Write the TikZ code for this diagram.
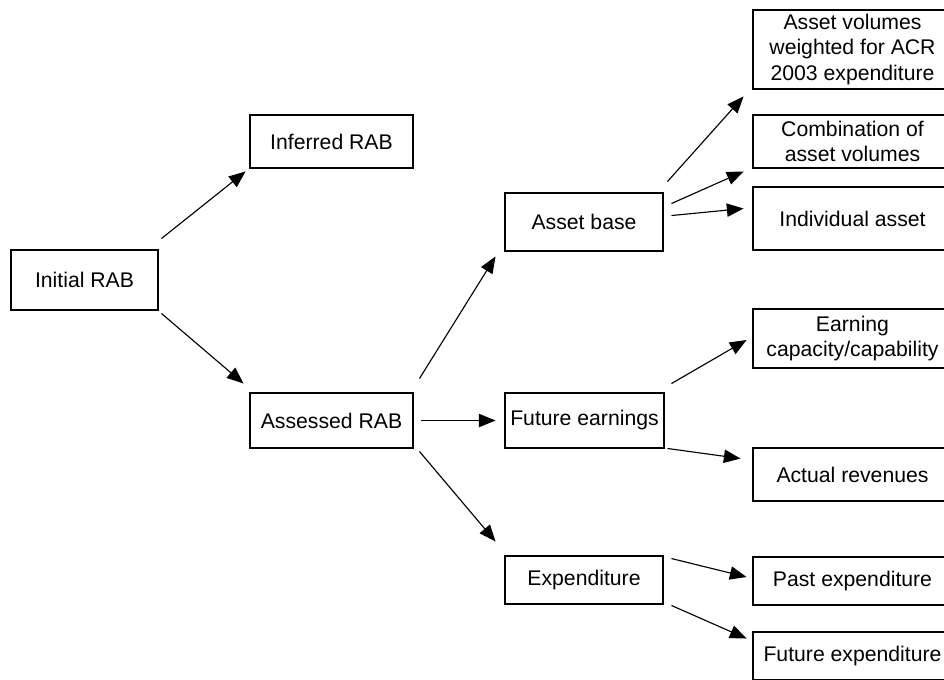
\documentclass[tikz,border=0pt]{standalone}
\usepackage{fontspec}
\setmainfont{Liberation Sans}
\usetikzlibrary{arrows.meta,calc}
\begin{document}
\begin{tikzpicture}[x=0.75pt,y=-0.75pt,
  box/.style={draw=black,line width=2.2pt,fill=white,align=center,inner sep=0pt,
    font=\fontsize{15.9}{19}\selectfont},
  colbox/.style={box,minimum width=149.25pt},
  conn/.style={line width=0.85pt,-{Triangle[length=12.5pt,width=10pt]}}]
\useasboundingbox (0,0) rectangle (944,679);
\clip (0,0) rectangle (944,679);
\fill[white] (0,0) rectangle (944,679);
% nodes
\node[box,minimum width=110.25pt,minimum height=45pt] (init) at (84.5,280) {Initial RAB};
\node[box,minimum width=122.25pt,minimum height=39.75pt] (inferred) at (331.5,141.5) {Inferred RAB};
\node[box,minimum width=122.25pt,minimum height=41.25pt] (assessed) at (331.5,420.5) {Assessed RAB};
\node[box,minimum width=118.5pt,minimum height=43.5pt] (assetbase) at (584,222) {Asset base};
\node[box,minimum width=119.25pt,minimum height=41.25pt] (futearn) at (584.5,420.5) {Future earnings};
\node[box,minimum width=118.5pt,minimum height=36pt] (expend) at (584,580) {Expenditure};
\node[colbox,minimum height=59.25pt] (vol) at (852.5,49.5) {Asset volumes\\weighted for ACR\\2003 expenditure};
\node[colbox,minimum height=39.75pt] (comb) at (852.5,141.5) {Combination of\\asset volumes};
\node[colbox,minimum height=47.25pt] (indiv) at (852.5,218.5) {Individual asset};
\node[colbox,minimum height=44.25pt] (earning) at (852.5,338.5) {Earning\\capacity/capability};
\node[colbox,minimum height=39.75pt] (actual) at (852.5,474.5) {Actual revenues};
\node[colbox,minimum height=36pt] (past) at (852.5,581) {Past expenditure};
\node[colbox,minimum height=36pt] (futexp) at (852.5,656) {Future expenditure};
% connectors
\draw[conn] ($(init.north east)+(2,-10)$) -- ($(inferred.south west)+(-3,2)$);
\draw[conn] ($(init.south east)+(2,2)$) -- ($(assessed.north west)+(-5,-8)$);
\draw[conn] ($(assessed.north east)+(5,-13)$) -- ($(assetbase.south west)+(-8,4)$);
\draw[conn] ($(assessed.east)+(7,0)$) -- ($(futearn.west)+(-8,0)$);
\draw[conn] ($(assessed.south east)+(5,2)$) -- ($(expend.north west)+(-8,-13)$);
\draw[conn] ($(assetbase.north east)+(3,-10)$) -- ($(vol.south west)+(-8,6)$);
\draw[conn] ($(assetbase.north east)+(7,12)$) -- ($(comb.south west)+(-8,2)$);
\draw[conn] ($(assetbase.north east)+(7,24)$) -- ($(indiv.west)+(-8,-10)$);
\draw[conn] ($(futearn.north east)+(6,-8)$) -- ($(earning.west)+(-5,1.5)$);
\draw[conn] ($(futearn.south east)+(2,-1)$) -- ($(actual.north west)+(-11,12)$);
\draw[conn] ($(expend.north east)+(7,4)$) -- ($(past.west)+(-5,-4)$);
\draw[conn] ($(expend.south east)+(7,0)$) -- ($(futexp.north west)+(-5,8)$);
\end{tikzpicture}
\end{document}
